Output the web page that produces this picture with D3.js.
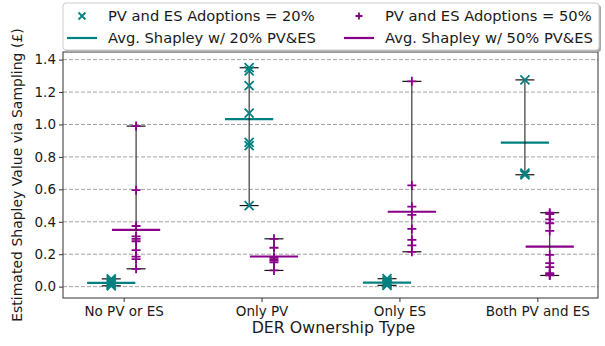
<!DOCTYPE html>
<html>
<head>
<meta charset="utf-8">
<script src="https://cdn.jsdelivr.net/npm/d3@7"></script>
<style>
  body { margin: 0; background: #fff; }
  svg { font-family: "DejaVu Sans", sans-serif; }
</style>
</head>
<body>
<script>
// DATA
const categories = ["No PV or ES", "Only PV", "Only ES", "Both PV and ES"];
const yTicks = [0.0, 0.2, 0.4, 0.6, 0.8, 1.0, 1.2, 1.4];

// samples at 20% adoption, one list per category
const samples20 = [
  [0.005, 0.012, 0.02, 0.03, 0.04, 0.048],
  [1.35, 1.33, 1.24, 1.07, 0.89, 0.87, 0.50],
  [0.008, 0.015, 0.025, 0.035, 0.049],
  [1.275, 0.70, 0.69]
];
// samples at 50% adoption
const samples50 = [
  [0.99, 0.595, 0.374, 0.31, 0.295, 0.28, 0.225, 0.185, 0.17, 0.11],
  [0.295, 0.24, 0.18, 0.17, 0.16, 0.15, 0.10],
  [1.266, 0.624, 0.493, 0.442, 0.356, 0.289, 0.254, 0.215],
  [0.456, 0.448, 0.415, 0.391, 0.344, 0.196, 0.145, 0.121, 0.084, 0.074, 0.069]
];
const mean20 = [0.023, 1.033, 0.025, 0.888];
const mean50 = [0.35, 0.186, 0.462, 0.247];

const teal = "#008080";
const purple = "#880088";

// SIZES
const W = 605, H = 346;
const mLeft = 63, mRight = 598, mTop = 52, mBottom = 298;

const svg = d3.select("body").append("svg").attr("width", W).attr("height", H);

const x = d3.scaleLinear().domain([-0.44, 3.44]).range([mLeft, mRight]);
const y = d3.scaleLinear().domain([-0.07, 1.447]).range([mBottom, mTop]);

//GRID
svg.append("g").selectAll("line").data(yTicks).join("line")
  .attr("x1", mLeft).attr("x2", mRight)
  .attr("y1", d => y(d)).attr("y2", d => y(d))
  .attr("stroke", "#8a8a8a").attr("stroke-width", 0.8)
  .attr("stroke-dasharray", "4,2");

// AXES
const yAxis = svg.append("g").attr("transform", `translate(${mLeft},0)`)
  .call(d3.axisLeft(y).tickValues(yTicks).tickFormat(d3.format(".1f")).tickSizeOuter(0).tickSize(4).tickPadding(3));
const xAxis = svg.append("g").attr("transform", `translate(0,${mBottom})`)
  .call(d3.axisBottom(x).tickValues([0, 1, 2, 3]).tickFormat(i => categories[i]).tickSizeOuter(0).tickSize(4).tickPadding(4));
[yAxis, xAxis].forEach(a => {
  a.select(".domain").remove();
  a.selectAll("text").attr("font-size", 13.5).attr("fill", "#1a1a1a").style("font-family", "DejaVu Sans");
  a.selectAll("line").attr("stroke", "#333");
});

svg.append("rect").attr("x", mLeft).attr("y", mTop)
  .attr("width", mRight - mLeft).attr("height", mBottom - mTop)
  .attr("fill", "none").attr("stroke", "#333").attr("stroke-width", 1);

// ONE SERIES = mean line, error bar, markers
function drawSeries(samples, means, offset, color, marker) {
  const g = svg.append("g");
  samples.forEach((vals, i) => {
    const cx = x(i + offset);
    g.append("line")
      .attr("x1", x(i + offset - 0.175)).attr("x2", x(i + offset + 0.175))
      .attr("y1", y(means[i])).attr("y2", y(means[i]))
      .attr("stroke", color).attr("stroke-width", 2.2);
    const lo = d3.min(vals), hi = d3.max(vals);
    g.append("line").attr("x1", cx).attr("x2", cx)
      .attr("y1", y(lo)).attr("y2", y(hi))
      .attr("stroke", "#111").attr("stroke-width", 1);
    [lo, hi].forEach(v => {
      g.append("line").attr("x1", cx - 9.5).attr("x2", cx + 9.5)
        .attr("y1", y(v)).attr("y2", y(v))
        .attr("stroke", "#111").attr("stroke-width", 1.2);
    });
    vals.forEach(v => {
      const py = y(v), s = 4.5;
      const p = marker === "x"
        ? `M${cx - s},${py - s}L${cx + s},${py + s}M${cx - s},${py + s}L${cx + s},${py - s}`
        : `M${cx - s},${py}L${cx + s},${py}M${cx},${py - s}L${cx},${py + s}`;
      g.append("path").attr("d", p).attr("stroke", color).attr("stroke-width", 1.8).attr("fill", "none");
    });
  });
}
drawSeries(samples20, mean20, -0.09, teal, "x");
drawSeries(samples50, mean50, 0.09, purple, "+");

// LABELS
svg.append("text").attr("x", (mLeft + mRight) / 2 + 3).attr("y", 333)
  .attr("text-anchor", "middle").attr("font-size", 15.8).attr("fill", "#1a1a1a")
  .text("DER Ownership Type");
svg.append("text").attr("transform", `translate(22,${(mTop + mBottom) / 2}) rotate(-90)`)
  .attr("text-anchor", "middle").attr("font-size", 14).attr("fill", "#1a1a1a")
  .text("Estimated Shapley Value via Sampling (£)");

// LEGEND
const leg = svg.append("g");
leg.append("rect").attr("x", 65).attr("y", 5).attr("width", 536).attr("height", 47)
  .attr("rx", 3).attr("fill", "#a8a8a8");
leg.append("rect").attr("x", 63).attr("y", 3).attr("width", 536).attr("height", 47)
  .attr("rx", 3).attr("fill", "#fff").attr("stroke", "#ccc");
const items = [
  { col: 0, row: 0, color: teal, kind: "x", label: "PV and ES Adoptions = 20%" },
  { col: 1, row: 0, color: purple, kind: "+", label: "PV and ES Adoptions = 50%" },
  { col: 0, row: 1, color: teal, kind: "line", label: "Avg. Shapley w/ 20% PV&ES" },
  { col: 1, row: 1, color: purple, kind: "line", label: "Avg. Shapley w/ 50% PV&ES" }
];
items.forEach(it => {
  const hx = it.col === 0 ? 82 : 359;
  const ty = it.row === 0 ? 16 : 38;
  if (it.kind === "line") {
    leg.append("line").attr("x1", hx - 15).attr("x2", hx + 15).attr("y1", ty).attr("y2", ty)
      .attr("stroke", it.color).attr("stroke-width", 2.2);
  } else {
    const s = 3.5;
    const p = it.kind === "x"
      ? `M${hx - s},${ty - s}L${hx + s},${ty + s}M${hx - s},${ty + s}L${hx + s},${ty - s}`
      : `M${hx - s},${ty}L${hx + s},${ty}M${hx},${ty - s}L${hx},${ty + s}`;
    leg.append("path").attr("d", p).attr("stroke", it.color).attr("stroke-width", 1.8);
  }
  leg.append("text").attr("x", hx + 26).attr("y", ty + 5).attr("font-size", 14.7).attr("fill", "#1a1a1a")
    .text(it.label);
});
</script>
</body>
</html>
